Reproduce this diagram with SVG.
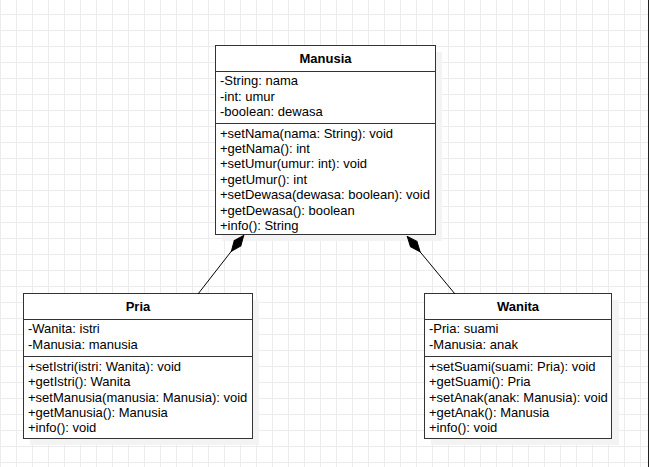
<svg xmlns="http://www.w3.org/2000/svg" width="649" height="467" viewBox="0 0 649 467">
<defs>
<pattern id="grid" width="16" height="16" patternUnits="userSpaceOnUse" x="0" y="14">
<path d="M0.5,0 V16 M0,0.5 H16" fill="none" stroke="#ececec" stroke-width="1"/>
</pattern>
<marker id="diamond" markerUnits="userSpaceOnUse" markerWidth="22" markerHeight="12" refX="0" refY="6" orient="auto" viewBox="0 0 22 12">
<path d="M0.5,6 L10.5,1.8 L20.5,6 L10.5,10.2 Z" fill="#000" stroke="#000" stroke-width="1"/>
</marker>
<style>
.box{fill:#fff;stroke:#333;stroke-width:1}
.shadow{fill:#f3f3f3}
.sep{stroke:#333;stroke-width:1}
.t{font-family:"Liberation Sans",Arial,sans-serif;font-size:13px;fill:#000}
.title{font-weight:bold;text-anchor:middle}
.edge{fill:none;stroke:#000;stroke-width:1}
</style>
</defs>
<rect width="649" height="467" fill="#fff"/>
<rect width="649" height="467" fill="url(#grid)"/>
<line x1="648.5" y1="0" x2="648.5" y2="467" stroke="#222" stroke-width="1"/>

<g id="Manusia">
<rect class="shadow" x="222" y="52" width="220" height="189"/>
<rect class="box" x="215.5" y="45.5" width="220" height="189"/>
<line class="sep" x1="215.5" y1="71.5" x2="435.5" y2="71.5"/>
<line class="sep" x1="215.5" y1="123.5" x2="435.5" y2="123.5"/>
<text class="t title" x="325.5" y="63">Manusia</text>
<text class="t" x="220" y="85">-String: nama</text>
<text class="t" x="220" y="100.5">-int: umur</text>
<text class="t" x="220" y="116">-boolean: dewasa</text>
<text class="t" x="220" y="137.5">+setNama(nama: String): void</text>
<text class="t" x="220" y="153">+getNama(): int</text>
<text class="t" x="220" y="168">+setUmur(umur: int): void</text>
<text class="t" x="220" y="183.5">+getUmur(): int</text>
<text class="t" x="220" y="199">+setDewasa(dewasa: boolean): void</text>
<text class="t" x="220" y="214.5">+getDewasa(): boolean</text>
<text class="t" x="220" y="230">+info(): String</text>
</g>

<g id="Pria">
<rect class="shadow" x="30" y="300" width="229" height="145"/>
<rect class="box" x="23.5" y="293.5" width="229" height="145"/>
<line class="sep" x1="23.5" y1="319.5" x2="252.5" y2="319.5"/>
<line class="sep" x1="23.5" y1="356.5" x2="252.5" y2="356.5"/>
<text class="t title" x="138" y="311">Pria</text>
<text class="t" x="28" y="333">-Wanita: istri</text>
<text class="t" x="28" y="349">-Manusia: manusia</text>
<text class="t" x="28" y="371">+setIstri(istri: Wanita): void</text>
<text class="t" x="28" y="386">+getIstri(): Wanita</text>
<text class="t" x="28" y="401.5">+setManusia(manusia: Manusia): void</text>
<text class="t" x="28" y="417">+getManusia(): Manusia</text>
<text class="t" x="28" y="432">+info(): void</text>
</g>

<g id="Wanita">
<rect class="shadow" x="431" y="300" width="188" height="145"/>
<rect class="box" x="424.5" y="293.5" width="187" height="145"/>
<line class="sep" x1="424.5" y1="319.5" x2="611.5" y2="319.5"/>
<line class="sep" x1="424.5" y1="356.5" x2="611.5" y2="356.5"/>
<text class="t title" x="518" y="311">Wanita</text>
<text class="t" x="429" y="333">-Pria: suami</text>
<text class="t" x="429" y="349">-Manusia: anak</text>
<text class="t" x="429" y="371">+setSuami(suami: Pria): void</text>
<text class="t" x="429" y="386">+getSuami(): Pria</text>
<text class="t" x="429" y="401.5">+setAnak(anak: Manusia): void</text>
<text class="t" x="429" y="417">+getAnak(): Manusia</text>
<text class="t" x="429" y="432">+info(): void</text>
</g>

<g id="connectors">
<path class="edge" d="M244,235 L198,294" marker-start="url(#diamond)"/>
<path class="edge" d="M407,236 L455,294" marker-start="url(#diamond)"/>
</g>
</svg>
